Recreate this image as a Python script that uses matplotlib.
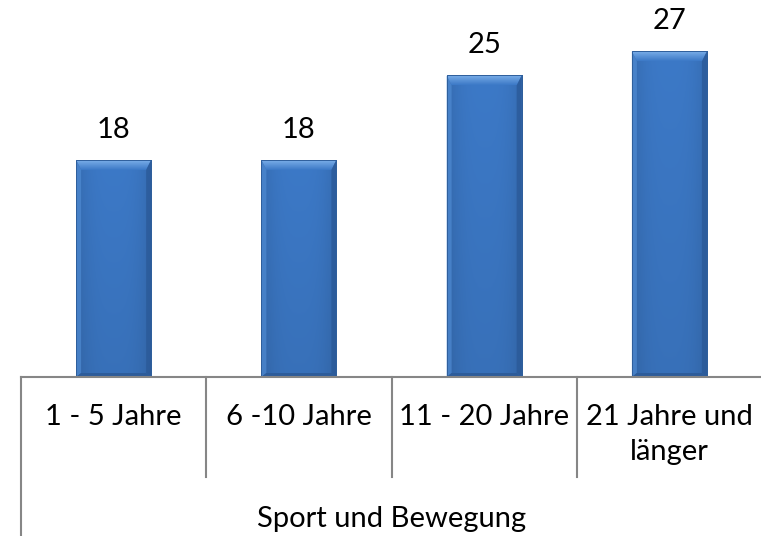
import numpy as np
import matplotlib.pyplot as plt
from matplotlib.patches import Polygon
from matplotlib.transforms import blended_transform_factory

# Data
categories = ["1 - 5 Jahre", "6 -10 Jahre", "11 - 20 Jahre", "21 Jahre und\nlänger"]
values = [18, 18, 25, 27]
group_label = "Sport und Bewegung"

plt.rcParams['font.family'] = ['Lato', 'DejaVu Sans']
fs = 21

W, H = 761, 536
fig = plt.figure(figsize=(W / 100, H / 100), dpi=100)
ax_left, ax_right, ax_bottom = 21, 762, 377
ax = fig.add_axes([ax_left / W, (H - ax_bottom) / H, (ax_right - ax_left) / W, ax_bottom / H])

n = len(categories)
x = np.arange(n)
ax.set_xlim(-0.5, n - 0.5)
ymax = 31.26
ax.set_ylim(0, ymax)
ax.axis('off')

bar_w = 0.405
# pixel -> data conversions for bevel sizes
px_x = n / (ax_right - ax_left)
px_y = ymax / ax_bottom
bev_x = 5 * px_x
bev_y = 10 * px_y

# subtle gradient for the bar body: lighter near top, slightly darker at sides
gx = np.linspace(0, 1, 64)
gy = np.linspace(0, 1, 64)
side = 1 - 0.12 * (2 * np.abs(gx - 0.5)) ** 3
vert = 0.93 + 0.07 * gy  # gy=1 at top (origin lower)
base = np.array([0x3c, 0x79, 0xc7]) / 255
img = np.clip(base[None, None, :] * (vert[:, None] * side[None, :])[:, :, None], 0, 1)

# top bevel gradient (light at edge, blending into body)
tb = np.linspace(0, 1, 32)
top_light = np.array([0x7a, 0xae, 0xe8]) / 255
top_img = (base[None, :] * (1 - tb[:, None]) + top_light[None, :] * tb[:, None])[:, None, :]

for xi, v in zip(x, values):
    x0, x1 = xi - bar_w / 2, xi + bar_w / 2
    body = ax.bar(xi, v, width=bar_w, color='#3b77c4', edgecolor='none', zorder=2)[0]
    im = ax.imshow(img, extent=[x0, x1, 0, v], origin='lower', aspect='auto', zorder=2.5)
    im.set_clip_path(body)
    # top bevel
    top = Polygon([[x0, v], [x1, v], [x1 - bev_x, v - bev_y], [x0 + bev_x, v - bev_y]],
                  closed=True, facecolor='none', edgecolor='none', zorder=3)
    ax.add_patch(top)
    tim = ax.imshow(np.repeat(top_img, 4, axis=1), extent=[x0, x1, v - bev_y, v],
                    origin='lower', aspect='auto', zorder=3)
    tim.set_clip_path(top)
    # left side bevel
    ax.add_patch(Polygon([[x0, v], [x0 + bev_x, v - bev_y], [x0 + bev_x, bev_y * 0.4], [x0, 0]],
                         closed=True, facecolor='#4f8bd3', edgecolor='none', alpha=0.7, zorder=3))
    # right side bevel
    ax.add_patch(Polygon([[x1, v], [x1 - bev_x, v - bev_y], [x1 - bev_x, bev_y * 0.4], [x1, 0]],
                         closed=True, facecolor='#2a5896', edgecolor='none', alpha=0.7, zorder=3))
    # bottom bevel
    ax.add_patch(Polygon([[x0, 0], [x1, 0], [x1 - bev_x, bev_y * 0.4], [x0 + bev_x, bev_y * 0.4]],
                         closed=True, facecolor='#2d5c9a', edgecolor='none', zorder=3))
    ax.add_patch(Polygon([[x0, 0], [x1, 0], [x1, v], [x0, v]], closed=True,
                         facecolor='none', edgecolor='#2f5f9c', lw=0.7, zorder=3.5))
    ax.text(xi, v + 17 * px_y, str(v), ha='center', va='bottom', fontsize=fs, color='black')

# category axis line and separators
gray = '#868686'
tr = blended_transform_factory(ax.transData, fig.transFigure)
ax.axhline(0, color=gray, lw=1.5, zorder=4, clip_on=False)
edges = np.arange(n + 1) - 0.5
for i, e in enumerate(edges):
    if i == 0:
        y_end = 0
    elif i == n:
        continue
    else:
        y_end = (H - 477) / H
    ax.plot([e, e], [(H - ax_bottom) / H, y_end], color=gray, lw=1.5, transform=tr, clip_on=False)

for xi, c in zip(x, categories):
    ax.text(xi, (H - 404) / H, c, ha='center', va='top', fontsize=fs, transform=tr,
            linespacing=1.42)

ax.text(np.mean(x), (H - 519) / H, group_label, ha='center', va='center', fontsize=fs, transform=tr)

fig.savefig('out.png', dpi=100)
